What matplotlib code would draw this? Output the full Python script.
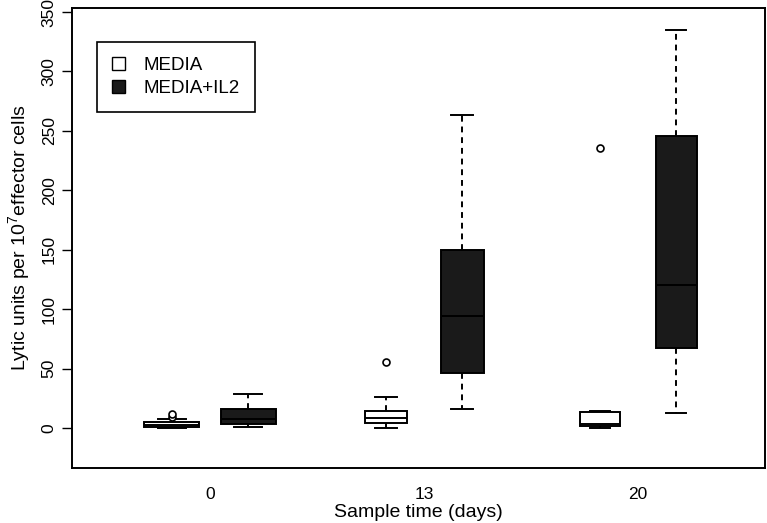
import numpy as np
import matplotlib
matplotlib.use('Agg')
import matplotlib.pyplot as plt
from matplotlib.patches import Patch

plt.rcParams['font.family'] = ['Liberation Sans', 'DejaVu Sans']
plt.rcParams['mathtext.fontset'] = 'custom'
plt.rcParams['mathtext.rm'] = 'Liberation Sans'

# Werte
days = ['0', '13', '20']
groups = ['MEDIA', 'MEDIA+IL2']

# MEDIA
med_lo = [0.0, 0.0, 0.3]
med_q1 = [1.1, 4.5, 1.9]
med_med = [2.5, 8.7, 3.0]
med_q3 = [4.8, 14.3, 13.2]
med_hi = [7.3, 26.4, 14.6]
med_fl = [[9.0, 12.0], [55.9], [236.0]]

# MEDIA+IL2
il2_lo = [1.1, 16.3, 12.4]
il2_q1 = [3.4, 46.6, 67.1]
il2_med = [7.6, 94.4, 120.5]
il2_q3 = [16.0, 149.4, 245.4]
il2_hi = [28.4, 263.0, 335.3]
il2_fl = [[], [], []]

box_w = [0.257, 0.2, 0.19]

fig = plt.figure(figsize=(7.67, 5.23), dpi=100)
ax = fig.add_axes([0.0939, 0.1052, 0.9035, 0.8795])

def stats(lo, q1, md, q3, hi, fl):
    return [dict(whislo=lo[i], q1=q1[i], med=md[i], q3=q3[i], whishi=hi[i], fliers=fl[i])
            for i in range(len(lo))]

centers = np.arange(1, len(days)+1)
off = 0.178

for st, pos, fc in [(stats(med_lo, med_q1, med_med, med_q3, med_hi, med_fl), centers-off, 'white'),
                    (stats(il2_lo, il2_q1, il2_med, il2_q3, il2_hi, il2_fl), centers+off, '#1a1a1a')]:
    ax.bxp(st, positions=pos, widths=box_w, patch_artist=True, showfliers=True,
           boxprops=dict(facecolor=fc, edgecolor='black', linewidth=1.4),
           medianprops=dict(color='black', linewidth=1.4),
           whiskerprops=dict(color='black', linewidth=1.4, linestyle=(0, (3, 2.5))),
           capprops=dict(color='black', linewidth=1.4),
           flierprops=dict(marker='o', markersize=5, markerfacecolor='white',
                           markeredgecolor='black', markeredgewidth=1.2),
           capwidths=[w/2 for w in box_w])

ax.set_xlim(0.355, 3.593)
ax.set_ylim(-33.6, 353.4)
ax.set_xticks(centers)
ax.set_xticklabels(days, fontsize=12.5)
ax.tick_params(axis='x', length=0, pad=14)
ax.set_yticks(np.arange(0, 351, 50))
ax.set_yticklabels([str(v) for v in range(0, 351, 50)], rotation=90, va='center', fontsize=12.5)
ax.tick_params(axis='y', length=7, width=1, pad=4)
for sp in ax.spines.values():
    sp.set_linewidth(1.4)

ax.set_xlabel('Sample time (days)', fontsize=14, labelpad=1)
ax.set_ylabel('Lytic units per 10$^7$effector cells', fontsize=14, labelpad=6)

handles = [Patch(facecolor='white', edgecolor='black', label=groups[0]),
           Patch(facecolor='#1a1a1a', edgecolor='black', label=groups[1])]
leg = ax.legend(handles=handles, loc='upper left', bbox_to_anchor=(0.036, 0.926),
                fontsize=13.5, fancybox=False, framealpha=1, edgecolor='black',
                handlelength=0.7, handleheight=0.7, borderpad=0.8, labelspacing=0.3,
                handletextpad=1.0, borderaxespad=0)
leg.get_frame().set_linewidth(1.2)

plt.savefig('out.png', dpi=100)
